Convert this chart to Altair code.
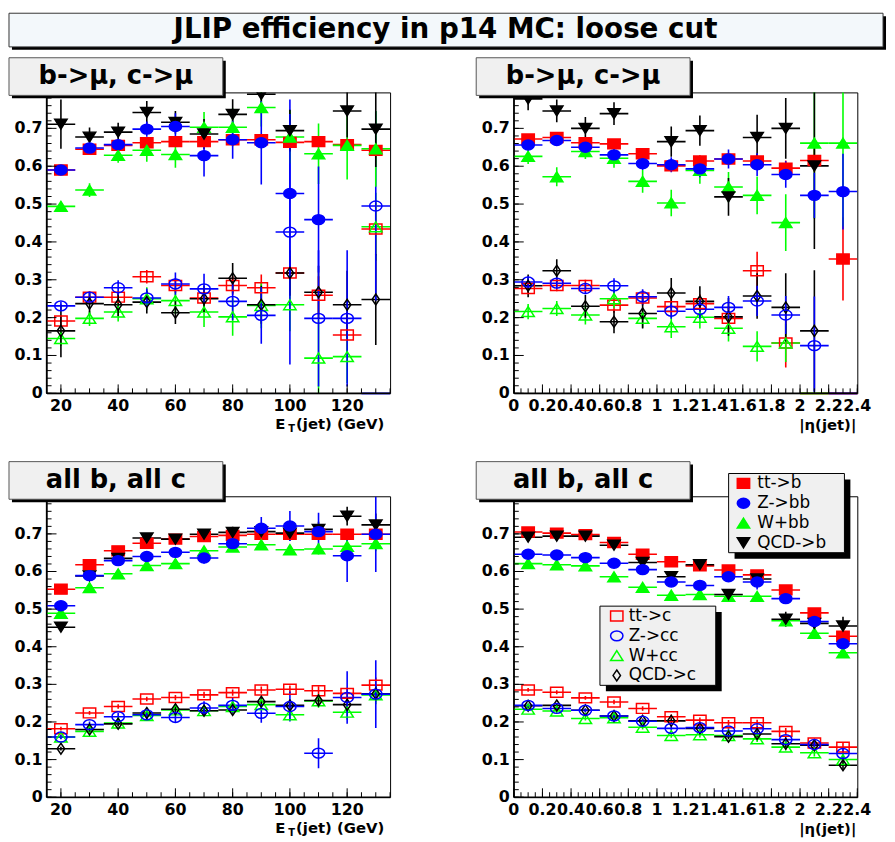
import altair as alt
import pandas as pd

# ---------------- bins ----------------
ET_CENTERS = [20, 30, 40, 50, 60, 70, 80, 90, 100, 110, 120, 130]
ETA_CENTERS = [0.1, 0.3, 0.5, 0.7, 0.9, 1.1, 1.3, 1.5, 1.7, 1.9, 2.1, 2.3]
ET_HALF_BIN = 5
ETA_HALF_BIN = 0.1

SERIES = ["tt->b", "Z->bb", "W+bb", "QCD->b", "tt->c", "Z->cc", "W+cc", "QCD->c"]
DRAW_ORDER = ["tt->c", "W+cc", "QCD->c", "Z->cc", "tt->b", "W+bb", "QCD->b", "Z->bb"]
COLORS = ["#ff0000", "#0000ff", "#00ff00", "#000000", "#ff0000", "#0000ff", "#00ff00", "#000000"]
FILLS = ["#ff0000", "#0000ff", "#00ff00", "#000000", "transparent", "transparent", "transparent", "transparent"]
SQUARE = "M-1,-0.8L1,-0.8L1,0.8L-1,0.8Z"
ELLIPSE = "M-1,0A1,0.8,0,1,0,1,0A1,0.8,0,1,0,-1,0Z"
TRI_UP = "M0,-0.8L1,0.8L-1,0.8Z"
TRI_DOWN = "M-1,-0.8L1,-0.8L0,0.8Z"
DIAMOND = "M0,-0.88L0.6,0L0,0.88L-0.6,0Z"
SHAPES = [SQUARE, ELLIPSE, TRI_UP, TRI_DOWN, SQUARE, ELLIPSE, TRI_UP, DIAMOND]

# ---------------- top-left: b->mu, c->mu vs ET ----------------
TL_TTB = [0.590, 0.645, 0.655, 0.662, 0.665, 0.665, 0.670, 0.670, 0.663, 0.665, 0.657, 0.642]
TL_TTB_E = [0.008, 0.008, 0.008, 0.009, 0.010, 0.010, 0.011, 0.012, 0.013, 0.015, 0.017, 0.020]
TL_ZBB = [0.590, 0.648, 0.657, 0.698, 0.705, 0.628, 0.670, 0.662, 0.528, 0.459, None, None]
TL_ZBB_E = [0.010, 0.012, 0.015, 0.020, 0.035, 0.055, 0.050, 0.110, 0.210, 0.140, 0, 0]
TL_WBB = [0.494, 0.537, 0.629, 0.642, 0.631, 0.703, 0.703, 0.755, 0.677, 0.633, 0.655, 0.646]
TL_WBB_E = [0.012, 0.018, 0.020, 0.030, 0.035, 0.040, 0.050, 0.050, 0.070, 0.080, 0.090, 0.100]
TL_QCDB = [0.711, 0.677, 0.690, 0.742, 0.716, 0.685, 0.737, 0.790, 0.694, None, 0.746, 0.698]
TL_QCDB_E = [0.065, 0.025, 0.025, 0.030, 0.030, 0.040, 0.040, 0.050, 0.055, 0, 0.070, 0.100]
TL_TTC = [0.191, 0.254, 0.254, 0.308, 0.285, 0.252, 0.285, 0.279, 0.318, 0.259, 0.154, 0.434]
TL_TTC_E = [0.015, 0.015, 0.015, 0.018, 0.020, 0.025, 0.025, 0.035, 0.045, 0.050, 0.060, 0.070]
TL_ZCC = [0.231, 0.254, 0.279, 0.252, 0.289, 0.276, 0.243, 0.206, 0.426, 0.198, 0.198, 0.495]
TL_ZCC_E = [0.010, 0.015, 0.020, 0.025, 0.030, 0.040, 0.050, 0.075, 0.350, 0.180, 0.180, 0.250]
TL_WCC = [0.145, 0.198, 0.215, 0.250, 0.245, 0.215, 0.202, 0.232, 0.234, 0.093, 0.097, 0.440]
TL_WCC_E = [0.020, 0.020, 0.025, 0.030, 0.035, 0.040, 0.050, 0.060, 0.070, 0.100, 0.070, 0.090]
TL_QCDC = [0.165, 0.237, 0.234, 0.241, 0.213, 0.250, 0.304, 0.234, 0.318, 0.267, 0.234, 0.248]
TL_QCDC_E = [0.070, 0.030, 0.030, 0.030, 0.030, 0.035, 0.040, 0.050, 0.060, 0.070, 0.090, 0.120]
TL_ZERO_SERIES = ["Z->bb"]          # bins with zero efficiency (drawn on the axis)
TL_ZERO_X = [130]

# ---------------- top-right: b->mu, c->mu vs |eta| ----------------
TR_TTB = [0.672, 0.676, 0.662, 0.659, 0.633, 0.601, 0.614, 0.619, 0.614, 0.595, 0.615, 0.355]
TR_TTB_E = [0.010, 0.010, 0.012, 0.012, 0.013, 0.014, 0.015, 0.016, 0.018, 0.020, 0.030, 0.110]
TR_ZBB = [0.656, 0.668, 0.650, 0.630, 0.607, 0.604, 0.593, 0.619, 0.604, 0.578, 0.523, 0.533]
TR_ZBB_E = [0.012, 0.012, 0.013, 0.015, 0.017, 0.020, 0.022, 0.025, 0.030, 0.035, 0.060, 0.100]
TR_WBB = [0.626, 0.572, 0.639, 0.621, 0.560, 0.503, 0.589, 0.545, 0.523, 0.451, 0.661, 0.661]
TR_WBB_E = [0.020, 0.025, 0.020, 0.025, 0.030, 0.035, 0.035, 0.040, 0.050, 0.075, 0.200, 0.220]
TR_QCDB = [0.778, 0.746, 0.700, 0.739, None, 0.665, 0.694, 0.519, 0.676, 0.700, 0.601, None]
TR_QCDB_E = [0.030, 0.030, 0.030, 0.030, 0, 0.040, 0.040, 0.050, 0.060, 0.080, 0.220, 0]
TR_TTC = [0.277, 0.285, 0.285, 0.233, 0.252, 0.229, 0.237, 0.198, 0.324, 0.133, None, None]
TR_TTC_E = [0.015, 0.015, 0.015, 0.020, 0.020, 0.025, 0.025, 0.030, 0.050, 0.065, 0, 0]
TR_ZCC = [0.294, 0.291, 0.277, 0.284, 0.255, 0.217, 0.222, 0.227, 0.244, 0.207, 0.126, None]
TR_ZCC_E = [0.015, 0.015, 0.015, 0.020, 0.020, 0.020, 0.025, 0.030, 0.040, 0.050, 0.130, 0]
TR_WCC = [0.216, 0.224, 0.207, 0.250, 0.198, 0.176, 0.201, 0.172, 0.124, 0.133, None, None]
TR_WCC_E = [0.020, 0.020, 0.025, 0.025, 0.025, 0.030, 0.030, 0.035, 0.040, 0.050, 0, 0]
TR_QCDC = [0.284, 0.324, 0.230, 0.189, 0.211, 0.265, 0.243, 0.202, 0.257, 0.227, 0.165, None]
TR_QCDC_E = [0.030, 0.030, 0.030, 0.030, 0.040, 0.040, 0.040, 0.050, 0.060, 0.090, 0.160, 0]
TR_ZERO_SERIES = ["tt->c", "W+cc", "tt->c", "Z->cc"]
TR_ZERO_X = [2.1, 2.1, 2.3, 2.3]

# ---------------- bottom-left: all b, all c vs ET ----------------
BL_TTB = [0.553, 0.618, 0.655, 0.675, 0.686, 0.693, 0.696, 0.699, 0.699, 0.699, 0.699, 0.699]
BL_TTB_E = [0.005, 0.005, 0.005, 0.006, 0.006, 0.006, 0.007, 0.008, 0.009, 0.010, 0.012, 0.014]
BL_ZBB = [0.509, 0.589, 0.629, 0.640, 0.651, 0.636, 0.674, 0.715, 0.721, 0.706, 0.642, 0.699]
BL_ZBB_E = [0.006, 0.008, 0.009, 0.010, 0.012, 0.015, 0.020, 0.030, 0.040, 0.050, 0.070, 0.100]
BL_WBB = [0.489, 0.557, 0.594, 0.616, 0.621, 0.655, 0.665, 0.671, 0.658, 0.660, 0.667, 0.674]
BL_WBB_E = [0.006, 0.007, 0.008, 0.008, 0.010, 0.010, 0.010, 0.012, 0.013, 0.015, 0.018, 0.020]
BL_QCDB = [0.452, 0.588, 0.635, 0.689, 0.686, 0.699, 0.704, 0.706, 0.702, 0.712, 0.747, 0.724]
BL_QCDB_E = [0.005, 0.007, 0.008, 0.010, 0.010, 0.012, 0.015, 0.018, 0.020, 0.020, 0.025, 0.030]
BL_TTC = [0.182, 0.224, 0.241, 0.261, 0.265, 0.272, 0.278, 0.285, 0.287, 0.283, 0.276, 0.298]
BL_TTC_E = [0.005, 0.005, 0.006, 0.006, 0.007, 0.008, 0.008, 0.009, 0.010, 0.012, 0.015, 0.020]
BL_ZCC = [0.160, 0.193, 0.214, 0.219, 0.212, 0.237, 0.244, 0.223, 0.241, 0.117, 0.265, 0.274]
BL_ZCC_E = [0.006, 0.008, 0.010, 0.012, 0.015, 0.018, 0.020, 0.025, 0.040, 0.040, 0.070, 0.090]
BL_WCC = [0.160, 0.175, 0.197, 0.217, 0.232, 0.230, 0.241, 0.246, 0.219, 0.256, 0.226, 0.272]
BL_WCC_E = [0.005, 0.006, 0.007, 0.008, 0.009, 0.010, 0.012, 0.013, 0.015, 0.018, 0.020, 0.025]
BL_QCDC = [0.129, 0.180, 0.195, 0.224, 0.234, 0.230, 0.232, 0.254, 0.244, 0.257, 0.246, 0.275]
BL_QCDC_E = [0.005, 0.006, 0.007, 0.008, 0.009, 0.010, 0.010, 0.012, 0.013, 0.015, 0.018, 0.020]
BL_ZERO_SERIES = []
BL_ZERO_X = []

# ---------------- bottom-right: all b, all c vs |eta| ----------------
BR_TTB = [0.705, 0.702, 0.698, 0.677, 0.646, 0.626, 0.615, 0.604, 0.591, 0.551, 0.490, 0.428]
BR_TTB_E = [0.005, 0.005, 0.005, 0.006, 0.006, 0.007, 0.007, 0.008, 0.008, 0.010, 0.012, 0.015]
BR_ZBB = [0.646, 0.644, 0.637, 0.622, 0.605, 0.572, 0.563, 0.586, 0.572, 0.528, 0.467, 0.408]
BR_ZBB_E = [0.006, 0.006, 0.007, 0.007, 0.008, 0.009, 0.010, 0.011, 0.020, 0.013, 0.015, 0.018]
BR_WBB = [0.621, 0.618, 0.615, 0.586, 0.558, 0.537, 0.539, 0.534, 0.534, 0.469, 0.436, 0.384]
BR_WBB_E = [0.005, 0.005, 0.006, 0.006, 0.007, 0.007, 0.008, 0.008, 0.009, 0.010, 0.012, 0.014]
BR_QCDB = [0.691, 0.694, 0.694, 0.670, 0.624, 0.586, 0.618, 0.539, 0.580, 0.473, 0.462, 0.455]
BR_QCDB_E = [0.008, 0.008, 0.008, 0.009, 0.010, 0.011, 0.012, 0.013, 0.015, 0.020, 0.020, 0.025]
BR_TTC = [0.285, 0.279, 0.264, 0.253, 0.236, 0.214, 0.205, 0.198, 0.198, 0.175, 0.144, 0.133]
BR_TTC_E = [0.005, 0.005, 0.005, 0.006, 0.006, 0.006, 0.007, 0.007, 0.008, 0.009, 0.010, 0.012]
BR_ZCC = [0.244, 0.236, 0.231, 0.216, 0.202, 0.183, 0.185, 0.176, 0.182, 0.153, 0.140, 0.116]
BR_ZCC_E = [0.005, 0.005, 0.005, 0.006, 0.006, 0.006, 0.007, 0.007, 0.008, 0.009, 0.010, 0.012]
BR_WCC = [0.234, 0.229, 0.209, 0.211, 0.186, 0.164, 0.166, 0.164, 0.155, 0.133, 0.118, 0.100]
BR_WCC_E = [0.005, 0.005, 0.005, 0.006, 0.006, 0.006, 0.007, 0.007, 0.008, 0.009, 0.010, 0.012]
BR_QCDC = [0.243, 0.244, 0.231, 0.216, 0.203, 0.203, 0.183, 0.161, 0.168, 0.142, 0.138, 0.085]
BR_QCDC_E = [0.005, 0.005, 0.005, 0.006, 0.006, 0.006, 0.007, 0.007, 0.008, 0.009, 0.010, 0.012]
BR_ZERO_SERIES = []
BR_ZERO_X = []

# ---------------- axis tick labels ----------------
Y_LABELS = [0, 0.1, 0.2, 0.3, 0.4, 0.5, 0.6, 0.7, 0.8]
ET_LABELS = [20, 40, 60, 80, 100, 120]
ETA_LABELS = [0, 0.2, 0.4, 0.6, 0.8, 1, 1.2, 1.4, 1.6, 1.8, 2, 2.2, 2.4]

MAIN_TITLE = "JLIP efficiency in p14 MC: loose cut"

W, H = 347, 304
FONT = "DejaVu Sans"
ONE = pd.DataFrame({"k": [0]})


def build_df(xs, half, vals, errs):
    rows = []
    for s in DRAW_ORDER:
        i = SERIES.index(s)
        for x, y, e in zip(xs, vals[i], errs[i]):
            if y is None:
                continue
            rows.append({"series": s, "x": x, "xlo": x - half, "xhi": x + half,
                         "y": y, "lo": y - e, "hi": y + e})
    return pd.DataFrame(rows)


def stroke_enc():
    return alt.Stroke("series:N", scale=alt.Scale(domain=SERIES, range=COLORS), legend=None)


def shape_enc():
    return alt.Shape("series:N", scale=alt.Scale(domain=SERIES, range=SHAPES), legend=None)


def fill_enc():
    return alt.Fill("series:N", scale=alt.Scale(domain=SERIES, range=FILLS), legend=None)


def box(x0, x1, y0, y1, fill, stroke, sw=1, shadow=3):
    layers = []
    if shadow:
        layers.append(alt.Chart(ONE).mark_rect(fill="black").encode(
            x=alt.value(x0 + shadow), x2=alt.value(x1 + shadow),
            y=alt.value(y0 + shadow), y2=alt.value(y1 + shadow)))
    layers.append(alt.Chart(ONE).mark_rect(fill=fill, stroke=stroke, strokeWidth=sw).encode(
        x=alt.value(x0), x2=alt.value(x1), y=alt.value(y0), y2=alt.value(y1)))
    return layers


def text(x, y, s, size, weight="bold", align="center", font=FONT):
    return alt.Chart(ONE).mark_text(text=s, font=font, fontSize=size, fontWeight=weight,
                                    align=align, baseline="middle", color="black").encode(
        x=alt.value(x), y=alt.value(y))


def panel(kind, vals, errs, zero_series, zero_x, title, ymax, main_title=False, legend=False):
    if kind == "et":
        xs, half, dom, labels = ET_CENTERS, ET_HALF_BIN, [15, 135], ET_LABELS
        minor_step = 5
    else:
        xs, half, dom, labels = ETA_CENTERS, ETA_HALF_BIN, [0, 2.4], ETA_LABELS
        minor_step = 0.05
    xsc = alt.Scale(domain=dom, nice=False, zero=False)
    ysc = alt.Scale(domain=[0, ymax], nice=False, zero=True)
    df = build_df(xs, half, vals, errs)

    layers = []
    # horizontal error bars
    layers.append(alt.Chart(df).mark_rule(strokeWidth=1.6, clip=True).encode(
        x=alt.X("xlo:Q", scale=xsc, axis=None), x2="xhi:Q",
        y=alt.Y("y:Q", scale=ysc, axis=None), stroke=stroke_enc()))
    # vertical error bars
    layers.append(alt.Chart(df).mark_rule(strokeWidth=1.6, clip=True).encode(
        x=alt.X("x:Q", scale=xsc, axis=None), y=alt.Y("lo:Q", scale=ysc, axis=None), y2="hi:Q",
        stroke=stroke_enc()))
    # zero-efficiency bins: only their horizontal bar shows, lying on the axis
    if zero_series:
        zdf = pd.DataFrame({"series": zero_series, "xlo": [x - half for x in zero_x],
                            "xhi": [x + half for x in zero_x], "y": [0.0] * len(zero_x)})
        layers.append(alt.Chart(zdf).mark_rule(strokeWidth=2.5, opacity=0.55).encode(
            x=alt.X("xlo:Q", scale=xsc, axis=None), x2="xhi:Q",
            y=alt.Y("y:Q", scale=ysc, axis=None), stroke=stroke_enc()))
    # markers
    layers.append(alt.Chart(df).mark_point(size=156, strokeWidth=1.5, opacity=1, clip=True).encode(
        x=alt.X("x:Q", scale=xsc, axis=None), y=alt.Y("y:Q", scale=ysc, axis=None),
        shape=shape_enc(), fill=fill_enc(), stroke=stroke_enc()))

    # axis lines (left and bottom, thicker than the frame)
    layers.append(alt.Chart(ONE).mark_rule(color="black", strokeWidth=1.5).encode(
        x=alt.value(0), y=alt.value(0), y2=alt.value(H)))
    layers.append(alt.Chart(ONE).mark_rule(color="black", strokeWidth=1.5).encode(
        x=alt.value(0), x2=alt.value(W), y=alt.value(H)))

    # inside ticks
    ymaj_ticks = [v for v in Y_LABELS if v <= ymax + 1e-9]
    ymin_ticks = [round(i * 0.02, 3) for i in range(0, 41) if i * 0.02 <= ymax + 1e-9]
    nmin = int(round((dom[1] - dom[0]) / minor_step))
    xmin_ticks = [round(dom[0] + i * minor_step, 3) for i in range(nmin + 1)]
    layers.append(alt.Chart(pd.DataFrame({"y": ymin_ticks})).mark_rule(color="black", strokeWidth=1).encode(
        y=alt.Y("y:Q", scale=ysc, axis=None), x=alt.value(0), x2=alt.value(5)))
    layers.append(alt.Chart(pd.DataFrame({"y": ymaj_ticks})).mark_rule(color="black", strokeWidth=1).encode(
        y=alt.Y("y:Q", scale=ysc, axis=None), x=alt.value(0), x2=alt.value(10)))
    layers.append(alt.Chart(pd.DataFrame({"x": xmin_ticks})).mark_rule(color="black", strokeWidth=1).encode(
        x=alt.X("x:Q", scale=xsc, axis=None), y=alt.value(H), y2=alt.value(H - 5)))
    layers.append(alt.Chart(pd.DataFrame({"x": labels})).mark_rule(color="black", strokeWidth=1).encode(
        x=alt.X("x:Q", scale=xsc, axis=None), y=alt.value(H), y2=alt.value(H - 9)))

    # tick labels
    ylab = pd.DataFrame({"y": ymaj_ticks, "label": [f"{v:g}" for v in ymaj_ticks]})
    layers.append(alt.Chart(ylab).mark_text(font=FONT, fontSize=16, fontWeight="bold", align="right",
                                            baseline="middle", color="black").encode(
        y=alt.Y("y:Q", scale=ysc, axis=None), x=alt.value(-4), text="label:N"))
    xlab = pd.DataFrame({"x": labels, "label": [f"{v:g}" for v in labels]})
    layers.append(alt.Chart(xlab).mark_text(font=FONT, fontSize=16, fontWeight="bold", align="center",
                                            baseline="top", color="black").encode(
        x=alt.X("x:Q", scale=xsc, axis=None), y=alt.value(H + 5), text="label:N"))

    # axis title
    if kind == "et":
        layers.append(text(231, H + 31, "E", 15, align="left"))
        layers.append(text(244, H + 36, "T", 10, align="left"))
        layers.append(text(252, H + 31, "(jet) (GeV)", 15, align="left"))
    else:
        layers.append(text(W - 1, H + 32, "|η(jet)|", 15, align="right"))

    # panel title box
    layers += box(-38, 178, -35, 3, "#f0f0f0", "#555555", 1, 3)
    layers.append(text(70, -16, title, 26))

    if main_title:
        layers += box(-38, 845, -80, -46, "#f3f8fb", "#333333", 1, 3)
        layers.append(text(403, -63, MAIN_TITLE, 28))

    if legend:
        for grp, (bx0, by0, mx, tx, ry) in enumerate([(217, -23, 232, 246, -13), (87, 111, 104, 116, 121)]):
            layers += box(bx0, bx0 + 117, by0, by0 + 80, "#f0f0f0", "black", 1, 6)
            for j in range(4):
                s = SERIES[grp * 4 + j]
                yy = ry + 20 * j
                layers.append(alt.Chart(pd.DataFrame({"series": [s]})).mark_point(
                    size=156, strokeWidth=1.5, opacity=1).encode(
                    x=alt.value(mx), y=alt.value(yy),
                    shape=shape_enc(), fill=fill_enc(), stroke=stroke_enc()))
                layers.append(text(tx, yy, s, 17, weight="normal", align="left"))

    return alt.layer(*layers).properties(width=W, height=H)


def pick(prefix):
    g = globals()
    names = ["TTB", "ZBB", "WBB", "QCDB", "TTC", "ZCC", "WCC", "QCDC"]
    vals = [g[f"{prefix}_{n}"] for n in names]
    errs = [g[f"{prefix}_{n}_E"] for n in names]
    return vals, errs, g[f"{prefix}_ZERO_SERIES"], g[f"{prefix}_ZERO_X"]


tl = panel("et", *pick("TL"), "b->μ, c->μ", 0.795, main_title=True)
tr = panel("eta", *pick("TR"), "b->μ, c->μ", 0.795)
bl = panel("et", *pick("BL"), "all b, all c", 0.8)
br = panel("eta", *pick("BR"), "all b, all c", 0.8, legend=True)

chart = alt.ConcatChart(
    concat=[tl, tr, bl, br], columns=2,
    spacing={"row": 104, "column": 125}, bounds="flush",
).resolve_scale(x="independent", y="independent").properties(padding=0, background="white")

chart = chart.configure_view(stroke="black", strokeWidth=1)

chart.save("out.html", embed_options={"renderer": "svg", "actions": False})
